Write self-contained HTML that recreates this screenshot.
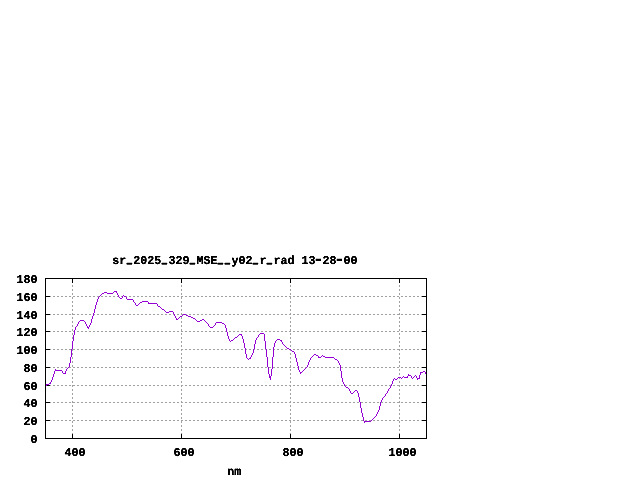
<!DOCTYPE html>
<html><head><meta charset="utf-8"><title>sr_2025_329_MSE__y02_r_rad 13-28-00</title>
<style>
html,body{margin:0;padding:0;background:#fff;}
body{width:640px;height:480px;overflow:hidden;}
svg{display:block;}
text{font-family:"Liberation Mono","DejaVu Sans Mono",monospace;font-weight:bold;font-size:12.0px;text-rendering:geometricPrecision;fill:#000;stroke:#000;stroke-width:0.3px;}
.u{font-size:7.4px;letter-spacing:2.76px;stroke-width:1.65px;}
.h{font-size:20px;stroke-width:0;}
</style></head><body>
<svg width="640" height="480" viewBox="0 0 640 480">
<rect width="640" height="480" fill="#fff"/>

<g shape-rendering="crispEdges" stroke="#a0a0a0" stroke-width="1" fill="none">
<line x1="45" y1="296.5" x2="427" y2="296.5" stroke-dasharray="2 2"/>
<line x1="45" y1="314.5" x2="427" y2="314.5" stroke-dasharray="2 2"/>
<line x1="45" y1="331.5" x2="427" y2="331.5" stroke-dasharray="2 2"/>
<line x1="45" y1="349.5" x2="427" y2="349.5" stroke-dasharray="2 2"/>
<line x1="45" y1="367.5" x2="427" y2="367.5" stroke-dasharray="2 2"/>
<line x1="45" y1="385.5" x2="427" y2="385.5" stroke-dasharray="2 2"/>
<line x1="45" y1="402.5" x2="427" y2="402.5" stroke-dasharray="2 2"/>
<line x1="45" y1="420.5" x2="427" y2="420.5" stroke-dasharray="2 2"/>
<line x1="72.5" y1="278" x2="72.5" y2="439" stroke-dasharray="2 2" stroke-dashoffset="1"/>
<line x1="181.5" y1="278" x2="181.5" y2="439" stroke-dasharray="2 2" stroke-dashoffset="1"/>
<line x1="290.5" y1="278" x2="290.5" y2="439" stroke-dasharray="2 2" stroke-dashoffset="1"/>
<line x1="399.5" y1="278" x2="399.5" y2="439" stroke-dasharray="2 2" stroke-dashoffset="1"/>
</g>
<g shape-rendering="crispEdges" stroke="#000" stroke-width="1" fill="none">
<line x1="45" y1="278.5" x2="50" y2="278.5"/><line x1="422" y1="278.5" x2="427" y2="278.5"/>
<line x1="45" y1="296.5" x2="50" y2="296.5"/><line x1="422" y1="296.5" x2="427" y2="296.5"/>
<line x1="45" y1="314.5" x2="50" y2="314.5"/><line x1="422" y1="314.5" x2="427" y2="314.5"/>
<line x1="45" y1="331.5" x2="50" y2="331.5"/><line x1="422" y1="331.5" x2="427" y2="331.5"/>
<line x1="45" y1="349.5" x2="50" y2="349.5"/><line x1="422" y1="349.5" x2="427" y2="349.5"/>
<line x1="45" y1="367.5" x2="50" y2="367.5"/><line x1="422" y1="367.5" x2="427" y2="367.5"/>
<line x1="45" y1="385.5" x2="50" y2="385.5"/><line x1="422" y1="385.5" x2="427" y2="385.5"/>
<line x1="45" y1="402.5" x2="50" y2="402.5"/><line x1="422" y1="402.5" x2="427" y2="402.5"/>
<line x1="45" y1="420.5" x2="50" y2="420.5"/><line x1="422" y1="420.5" x2="427" y2="420.5"/>
<line x1="45" y1="438.5" x2="50" y2="438.5"/><line x1="422" y1="438.5" x2="427" y2="438.5"/>
<line x1="72.5" y1="434" x2="72.5" y2="439"/><line x1="72.5" y1="278" x2="72.5" y2="283"/>
<line x1="181.5" y1="434" x2="181.5" y2="439"/><line x1="181.5" y1="278" x2="181.5" y2="283"/>
<line x1="290.5" y1="434" x2="290.5" y2="439"/><line x1="290.5" y1="278" x2="290.5" y2="283"/>
<line x1="399.5" y1="434" x2="399.5" y2="439"/><line x1="399.5" y1="278" x2="399.5" y2="283"/>
</g>
<path shape-rendering="crispEdges" fill="#9400d3" stroke="none" d="M46 384h1v2h-1zM47 384h2v1h-2zM49 383h1v1h-1zM50 382h1v2h-1zM51 380h1v2h-1zM52 377h1v3h-1zM53 374h1v3h-1zM54 371h1v3h-1zM55 369h1v2h-1zM56 370h6v1h-6zM62 371h1v2h-1zM63 373h2v1h-2zM65 371h1v3h-1zM66 369h1v2h-1zM67 368h1v1h-1zM68 367h1v1h-1zM69 363h1v4h-1zM70 357h1v6h-1zM71 349h1v8h-1zM72 341h1v8h-1zM73 335h1v6h-1zM74 330h1v5h-1zM75 327h1v3h-1zM76 326h1v1h-1zM77 324h1v2h-1zM78 322h1v2h-1zM79 321h1v1h-1zM80 320h4v1h-4zM84 321h1v1h-1zM85 322h1v2h-1zM86 324h1v2h-1zM87 326h1v2h-1zM88 327h1v2h-1zM89 325h1v2h-1zM90 323h1v2h-1zM91 319h1v4h-1zM92 316h1v3h-1zM93 313h1v3h-1zM94 309h1v4h-1zM95 305h1v4h-1zM96 302h1v3h-1zM97 299h1v3h-1zM98 297h1v2h-1zM99 296h1v1h-1zM100 295h1v1h-1zM101 294h1v1h-1zM102 293h2v1h-2zM104 292h3v1h-3zM107 293h6v1h-6zM113 292h1v1h-1zM114 291h2v1h-2zM116 291h1v2h-1zM117 293h1v2h-1zM118 295h1v2h-1zM119 297h1v1h-1zM120 298h2v1h-2zM122 296h1v2h-1zM123 295h1v1h-1zM124 296h2v1h-2zM126 297h1v2h-1zM127 299h6v1h-6zM133 300h1v2h-1zM134 302h1v1h-1zM135 303h1v2h-1zM136 305h2v1h-2zM138 304h1v1h-1zM139 303h1v1h-1zM140 302h2v1h-2zM142 301h6v1h-6zM148 302h1v2h-1zM149 303h8v1h-8zM157 304h1v2h-1zM158 306h2v1h-2zM160 307h1v1h-1zM161 308h1v1h-1zM162 309h2v1h-2zM164 310h1v1h-1zM165 311h1v1h-1zM166 312h3v1h-3zM169 311h4v1h-4zM173 312h1v2h-1zM174 314h1v2h-1zM175 316h1v2h-1zM176 318h1v2h-1zM177 319h1v1h-1zM178 318h1v1h-1zM179 317h1v1h-1zM180 316h2v1h-2zM182 315h1v1h-1zM183 314h3v1h-3zM186 315h2v1h-2zM188 316h3v1h-3zM191 317h2v1h-2zM193 318h2v1h-2zM195 319h1v1h-1zM196 320h1v1h-1zM197 321h3v1h-3zM200 320h2v1h-2zM202 319h2v1h-2zM204 320h1v1h-1zM205 321h1v1h-1zM206 322h1v1h-1zM207 323h1v1h-1zM208 324h1v2h-1zM209 326h1v1h-1zM210 327h3v1h-3zM213 326h1v1h-1zM214 325h1v1h-1zM215 323h1v2h-1zM216 322h6v1h-6zM222 323h2v1h-2zM224 324h1v1h-1zM225 325h1v3h-1zM226 328h1v4h-1zM227 332h1v4h-1zM228 336h1v3h-1zM229 339h1v2h-1zM230 341h1v1h-1zM231 340h2v1h-2zM233 339h1v1h-1zM234 338h1v1h-1zM235 337h2v1h-2zM237 336h1v1h-1zM238 335h1v1h-1zM239 334h2v1h-2zM241 334h1v2h-1zM242 336h1v3h-1zM243 339h1v4h-1zM244 343h1v5h-1zM245 348h1v6h-1zM246 354h1v4h-1zM247 358h1v1h-1zM248 359h1v1h-1zM249 358h1v1h-1zM250 357h1v2h-1zM251 355h1v2h-1zM252 353h1v2h-1zM253 349h1v4h-1zM254 344h1v5h-1zM255 340h1v4h-1zM256 338h1v2h-1zM257 337h1v1h-1zM258 335h1v2h-1zM259 334h1v1h-1zM260 333h4v1h-4zM264 334h1v7h-1zM265 341h1v8h-1zM266 349h1v8h-1zM267 357h1v10h-1zM268 367h1v7h-1zM269 374h1v4h-1zM270 376h1v4h-1zM271 369h1v7h-1zM272 357h1v12h-1zM273 347h1v10h-1zM274 343h1v4h-1zM275 341h1v2h-1zM276 340h1v1h-1zM277 339h3v1h-3zM280 340h1v1h-1zM281 340h1v2h-1zM282 342h1v2h-1zM283 344h1v1h-1zM284 345h1v1h-1zM285 346h1v1h-1zM286 347h1v1h-1zM287 348h2v1h-2zM289 349h2v1h-2zM291 350h1v1h-1zM292 351h2v1h-2zM294 352h1v2h-1zM295 354h1v4h-1zM296 358h1v4h-1zM297 362h1v4h-1zM298 366h1v4h-1zM299 370h1v2h-1zM300 372h1v2h-1zM301 372h1v1h-1zM302 371h1v1h-1zM303 370h1v1h-1zM304 369h1v1h-1zM305 368h1v1h-1zM306 367h1v1h-1zM307 365h1v2h-1zM308 362h1v3h-1zM309 360h1v2h-1zM310 358h1v2h-1zM311 357h1v1h-1zM312 356h1v1h-1zM313 355h1v1h-1zM314 354h2v1h-2zM316 355h2v1h-2zM318 356h1v2h-1zM319 357h2v1h-2zM321 356h1v1h-1zM322 355h1v1h-1zM323 356h2v1h-2zM325 357h9v1h-9zM334 358h1v1h-1zM335 359h2v1h-2zM337 360h1v1h-1zM338 361h1v2h-1zM339 363h1v2h-1zM340 365h1v6h-1zM341 371h1v7h-1zM342 378h1v4h-1zM343 382h1v2h-1zM344 384h1v2h-1zM345 386h1v1h-1zM346 387h2v1h-2zM348 388h1v1h-1zM349 389h1v2h-1zM350 391h1v2h-1zM351 393h2v1h-2zM353 392h1v1h-1zM354 391h1v1h-1zM355 390h2v1h-2zM357 391h1v2h-1zM358 393h1v4h-1zM359 397h1v5h-1zM360 402h1v6h-1zM361 408h1v5h-1zM362 413h1v4h-1zM363 417h1v4h-1zM364 421h1v2h-1zM365 421h6v1h-6zM371 420h1v1h-1zM372 419h1v1h-1zM373 418h1v1h-1zM374 417h1v1h-1zM375 416h1v1h-1zM376 414h1v2h-1zM377 412h1v2h-1zM378 410h1v2h-1zM379 406h1v4h-1zM380 402h1v4h-1zM381 400h1v2h-1zM382 398h1v2h-1zM383 397h1v1h-1zM384 396h1v1h-1zM385 394h1v2h-1zM386 393h1v1h-1zM387 391h1v2h-1zM388 389h1v2h-1zM389 388h1v1h-1zM390 386h1v2h-1zM391 384h1v2h-1zM392 381h1v3h-1zM393 379h1v2h-1zM394 378h1v1h-1zM395 379h2v1h-2zM397 378h1v1h-1zM398 377h3v1h-3zM401 378h1v1h-1zM402 377h1v1h-1zM403 376h1v1h-1zM404 377h3v1h-3zM407 376h1v2h-1zM408 374h1v2h-1zM409 375h2v1h-2zM411 376h1v2h-1zM412 378h1v1h-1zM413 377h1v1h-1zM414 376h1v1h-1zM415 375h1v1h-1zM416 376h1v2h-1zM417 378h1v2h-1zM418 378h1v1h-1zM419 375h1v4h-1zM420 372h1v3h-1zM421 372h2v1h-2zM423 371h2v1h-2zM425 372h1v2h-1z"/>
<rect shape-rendering="crispEdges" stroke="#000" stroke-width="1" fill="none" x="45.5" y="278.5" width="381" height="160"/>
<defs><filter id="bw" filterUnits="userSpaceOnUse" x="0" y="240" width="640" height="240" color-interpolation-filters="sRGB"><feComponentTransfer><feFuncA type="linear" slope="2.0" intercept="-0.5"/></feComponentTransfer></filter></defs>
<g filter="url(#bw)">
<text transform="translate(234.9,264) scale(0.9722,1)" text-anchor="middle"><tspan dx="0" dy="0">sr</tspan><tspan class="u" dx="0.84" dy="-0.62">_</tspan><tspan dx="-0.84" dy="0.62">2025</tspan><tspan class="u" dx="0.84" dy="-0.62">_</tspan><tspan dx="-0.84" dy="0.62">329</tspan><tspan class="u" dx="0.84" dy="-0.62">_</tspan><tspan dx="-0.84" dy="0.62">MSE</tspan><tspan class="u" dx="0.84" dy="-0.62">__</tspan><tspan dx="-0.84" dy="0.62">y02</tspan><tspan class="u" dx="0.84" dy="-0.62">_</tspan><tspan dx="-0.84" dy="0.62">r</tspan><tspan class="u" dx="0.84" dy="-0.62">_</tspan><tspan dx="-0.84" dy="0.62">rad 13</tspan><tspan class="h" dx="-2.9" dy="1.18">-</tspan><tspan dx="-1.9" dy="-1.18">28</tspan><tspan class="h" dx="-2.9" dy="1.18">-</tspan><tspan dx="-1.9" dy="-1.18">00</tspan></text>
<text transform="translate(37.5,283) scale(0.9722,1)" text-anchor="end">180</text>
<text transform="translate(37.5,301) scale(0.9722,1)" text-anchor="end">160</text>
<text transform="translate(37.5,319) scale(0.9722,1)" text-anchor="end">140</text>
<text transform="translate(37.5,336) scale(0.9722,1)" text-anchor="end">120</text>
<text transform="translate(37.5,354) scale(0.9722,1)" text-anchor="end">100</text>
<text transform="translate(37.5,372) scale(0.9722,1)" text-anchor="end">80</text>
<text transform="translate(37.5,390) scale(0.9722,1)" text-anchor="end">60</text>
<text transform="translate(37.5,407) scale(0.9722,1)" text-anchor="end">40</text>
<text transform="translate(37.5,425) scale(0.9722,1)" text-anchor="end">20</text>
<text transform="translate(37.5,443) scale(0.9722,1)" text-anchor="end">0</text>
<text transform="translate(75.1,456) scale(0.9722,1)" text-anchor="middle">400</text>
<text transform="translate(184.1,456) scale(0.9722,1)" text-anchor="middle">600</text>
<text transform="translate(293.1,456) scale(0.9722,1)" text-anchor="middle">800</text>
<text transform="translate(402.6,456) scale(0.9722,1)" text-anchor="middle">1000</text>
<text transform="translate(234.3,475) scale(0.9722,1)" text-anchor="middle">nm</text>
</g>
</svg>
</body></html>
